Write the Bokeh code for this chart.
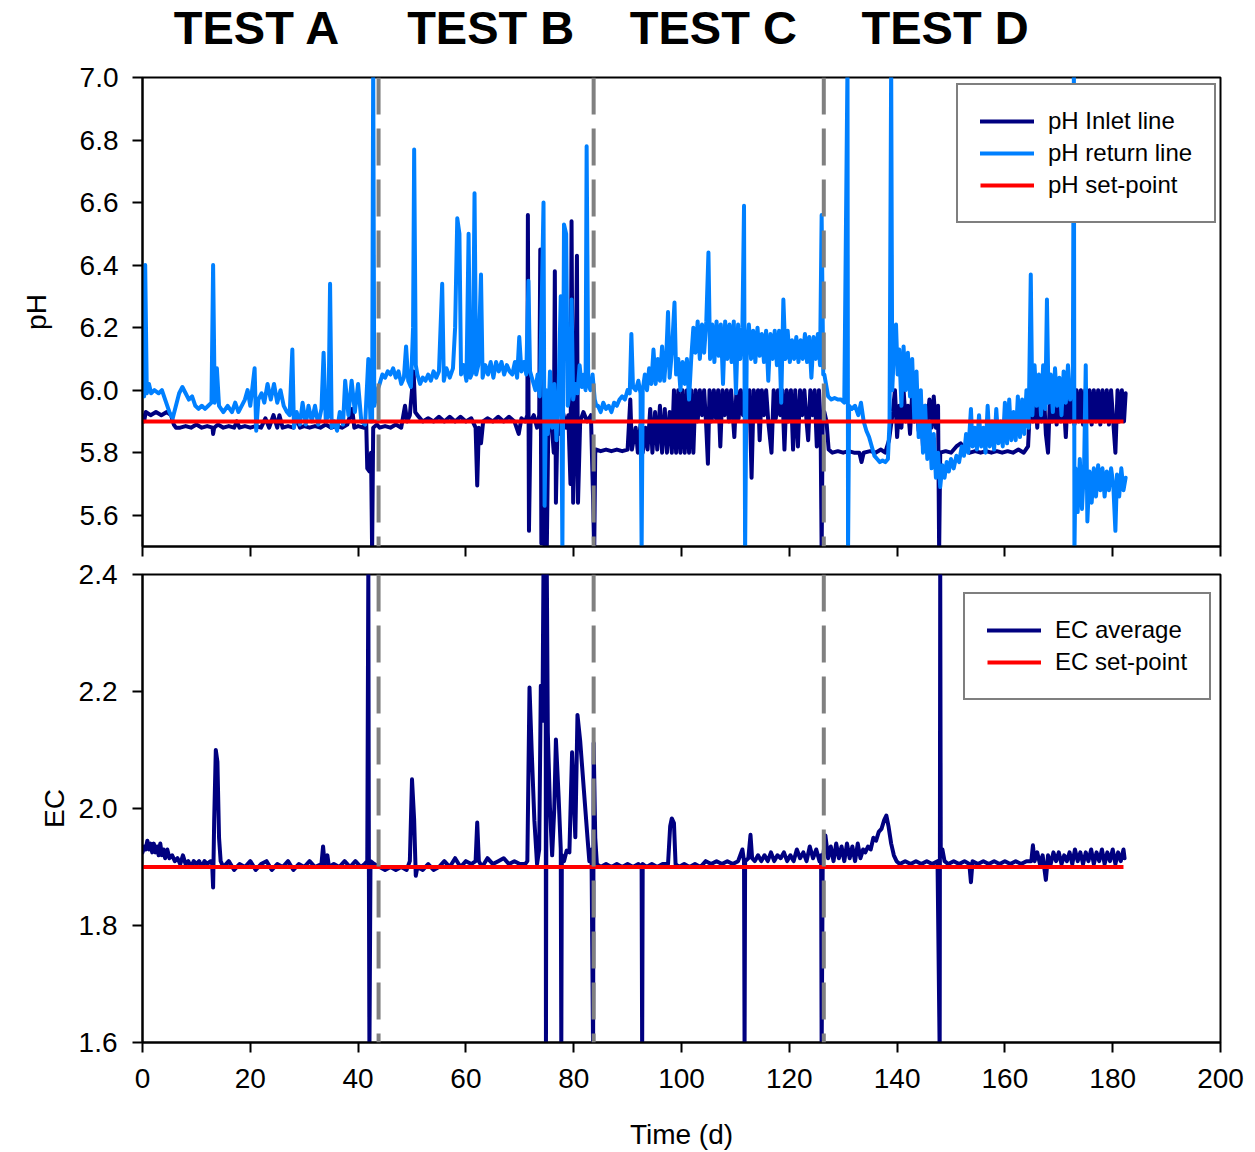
from bokeh.plotting import figure
from bokeh.layouts import column
from bokeh.models import Range1d, Span, Legend, LegendItem, FixedTicker, NumeralTickFormatter
from bokeh.embed import file_html
from bokeh.resources import INLINE
from bokeh.core.properties import value

FONT = "Liberation Sans"
NAVY = "#000080"
LIGHT = "#0080ff"
RED = "#ff0000"
GREY = "#808080"

# ---------------- data ----------------
test_names = ["TEST A", "TEST B", "TEST C", "TEST D"]
test_label_day = [21.3, 64.6, 105.9, 148.9]
test_boundaries = [43.8, 83.7, 126.4]

x_ticks = [0, 20, 40, 60, 80, 100, 120, 140, 160, 180, 200]
ph_ticks = [5.6, 5.8, 6.0, 6.2, 6.4, 6.6, 6.8, 7.0]
ec_ticks = [1.6, 1.8, 2.0, 2.2, 2.4]

setpoint_days = [0.0, 182.0]
ph_setpoint = [5.9, 5.9]
ec_setpoint = [1.9, 1.9]

# (day, pH) pH inlet line
ph_inlet = [
    (0.0, 5.92), (0.3, 5.90), (0.6, 5.93), (1.5, 5.92), (2.5, 5.93), (3.5, 5.92), (4.5, 5.93), (5.3, 5.92),
    (5.8, 5.89), (6.2, 5.88), (7, 5.88), (8, 5.885), (9, 5.88), (10, 5.89), (11, 5.88), (12, 5.885),
    (13.0, 5.88), (13.1, 5.86), (13.3, 5.88), (14, 5.89), (15, 5.88), (16, 5.885), (17, 5.88), (17.5, 5.90),
    (18, 5.88), (19, 5.885), (20, 5.88), (21, 5.885), (22, 5.88), (22.8, 5.91), (23.5, 5.88), (24.3, 5.92),
    (25, 5.88), (25.4, 5.92), (26, 5.88), (27, 5.885), (28, 5.88), (28.6, 5.91), (29.2, 5.88), (30, 5.885),
    (31, 5.88), (32, 5.885), (33, 5.88), (34, 5.89), (35, 5.88), (36, 5.885), (37, 5.88), (38, 5.89),
    (38.9, 5.94), (39.3, 5.88), (40, 5.885), (41, 5.88), (41.5, 5.90), (41.7, 5.75), (42.1, 5.74),
    (42.4, 5.80), (42.6, 5.48), (42.8, 5.88), (43.5, 5.89),
    (44, 5.88), (45, 5.885), (46, 5.88), (47, 5.89), (48, 5.88), (48.7, 5.95), (49.1, 5.90), (49.6, 5.92),
    (50.3, 6.06), (50.6, 5.93), (51, 5.92), (52, 5.90), (53, 5.91), (54, 5.90), (55, 5.915), (56, 5.90),
    (57, 5.915), (58, 5.90), (59, 5.915), (60, 5.90), (61, 5.91), (61.8, 5.88), (62.1, 5.695), (62.4, 5.88),
    (62.8, 5.83), (63.2, 5.90), (64, 5.91), (65, 5.90), (66, 5.915), (67, 5.90), (68, 5.915), (69, 5.90),
    (69.8, 5.86), (70.3, 5.91), (71, 5.90), (71.4, 5.92), (71.5, 6.56), (71.7, 5.55), (72.0, 5.90),
    (72.6, 5.92), (73.2, 5.88), (73.6, 5.92), (73.8, 6.45), (74.0, 5.51), (74.4, 5.90), (74.6, 5.48),
    (75.0, 5.48), (75.3, 5.90), (75.8, 5.92), (76.3, 5.80), (76.5, 6.38), (76.7, 5.64), (77.0, 5.90),
    (77.5, 5.86), (78.0, 5.93), (78.6, 5.88), (79.0, 5.92), (79.4, 5.70), (79.6, 6.54), (79.9, 5.64),
    (80.3, 5.90), (80.6, 6.43), (80.8, 5.64), (81.2, 5.90), (81.8, 5.93), (82.5, 5.90), (83.2, 5.92),
    (83.6, 5.65), (83.8, 5.48), (84.0, 5.81),
    (84.2, 5.81), (85, 5.805), (86, 5.81), (87, 5.805), (88, 5.81), (89, 5.805), (90, 5.81), (90.5, 5.97),
    (90.8, 5.81), (91.5, 5.88), (91.9, 5.80), (92.4, 5.89), (92.8, 5.80), (93.3, 5.88), (93.7, 5.81),
    (94.2, 5.94), (94.6, 5.80), (95.1, 5.93), (95.5, 5.81), (96.0, 5.95), (96.4, 5.80), (96.9, 5.94),
    (97.3, 5.80), (97.8, 5.93), (98.2, 5.80), (98.6, 6.00), (99.0, 5.80), (99.4, 6.00), (99.8, 5.80),
    (100.2, 6.00), (100.6, 5.80), (101.0, 6.00), (101.4, 5.80), (101.8, 6.00), (102.2, 5.80), (102.6, 6.00),
    (103.0, 5.90), (103.4, 6.00), (103.8, 5.92), (104.2, 6.00), (104.6, 5.88), (104.9, 5.765), (105.2, 6.00),
    (105.6, 5.90), (106.0, 6.00), (106.4, 5.91), (106.8, 6.00), (107.2, 5.82), (107.6, 6.00), (108.0, 5.92),
    (108.4, 6.00), (108.8, 5.90), (109.2, 6.00), (109.8, 5.85), (110.2, 6.00), (110.6, 5.91), (111.0, 6.00),
    (111.4, 5.92), (111.8, 6.00), (112.2, 5.90), (112.6, 6.00), (113.0, 5.72), (113.4, 6.00), (113.8, 5.91),
    (114.2, 6.00), (114.5, 5.84), (114.9, 6.00), (115.3, 5.92), (115.7, 6.00), (116.1, 5.90), (116.7, 5.80),
    (117.1, 6.00), (117.5, 5.91), (117.9, 6.00), (118.3, 5.92), (118.7, 6.00), (119.1, 5.81), (119.5, 6.00),
    (119.9, 5.90), (120.3, 6.00), (120.7, 5.81), (121.1, 6.00), (121.6, 5.82), (122.0, 6.00), (122.4, 5.92),
    (122.8, 6.00), (123.2, 5.90), (123.5, 5.84), (123.9, 6.00), (124.3, 5.92), (124.7, 6.00), (125.1, 5.82),
    (125.5, 6.00), (125.8, 5.90), (126.0, 5.48), (126.2, 5.92),
    (126.5, 5.93), (126.9, 5.90), (127.3, 5.81), (128, 5.80), (129, 5.805), (130, 5.80), (131, 5.805),
    (132, 5.80), (133, 5.80), (133.4, 5.77), (133.8, 5.80), (135, 5.805), (136, 5.80), (137, 5.81),
    (137.8, 5.80), (138.5, 5.84), (139.2, 5.93), (139.6, 6.00), (140.0, 5.85), (140.4, 5.95), (140.8, 5.88),
    (141.2, 6.00), (141.6, 5.90), (142.0, 5.95), (142.4, 5.86), (142.8, 5.99), (143.2, 5.90), (143.6, 5.96),
    (144.0, 5.87), (144.4, 5.94), (144.8, 5.82), (145.2, 5.95), (145.6, 5.90), (146.0, 5.97), (146.4, 5.88),
    (146.8, 5.98), (147.2, 5.88), (147.6, 5.95), (147.8, 5.48), (148.0, 5.80), (149, 5.805), (150, 5.80),
    (151, 5.82), (151.8, 5.83), (152.6, 5.81), (153.5, 5.80), (154.5, 5.805), (155.5, 5.80), (156.5, 5.805),
    (157.5, 5.80), (158.5, 5.805), (159.5, 5.80), (160.5, 5.805), (161.5, 5.80), (162.5, 5.81), (163.5, 5.80),
    (164.3, 5.82), (164.8, 6.00), (165.2, 5.90), (165.6, 6.00), (166.0, 5.88), (166.4, 6.00), (166.8, 5.90),
    (167.2, 6.00), (167.6, 5.86), (168.0, 5.80), (168.4, 6.00), (168.8, 5.90), (169.2, 6.00), (169.6, 5.89),
    (170.0, 6.00), (170.4, 5.90), (170.8, 6.00), (171.3, 5.85), (171.7, 6.00), (172.1, 5.90), (172.5, 6.00),
    (172.9, 5.89), (173.3, 6.00), (173.7, 5.90), (174.1, 6.00), (174.5, 5.89), (174.9, 6.00), (175.3, 5.90),
    (175.7, 6.00), (176.1, 5.89), (176.5, 6.00), (176.9, 5.90), (177.3, 6.00), (177.7, 5.89), (178.1, 6.00),
    (178.5, 5.90), (178.9, 6.00), (179.3, 5.89), (179.7, 6.00), (180.1, 5.90), (180.5, 5.80), (180.9, 6.00),
    (181.3, 5.90), (181.7, 6.00), (182.1, 5.90), (182.4, 5.99),
]

# (day, pH) pH return line
ph_return = [
    (0.0, 6.00), (0.3, 5.98), (0.5, 6.40), (0.8, 5.99), (1.2, 6.02), (1.6, 5.99), (2.2, 6.00), (3.0, 5.99),
    (3.6, 6.00), (4.2, 5.97), (5.0, 5.93), (5.6, 5.91), (6.2, 5.95), (6.8, 5.99), (7.4, 6.01), (8.0, 5.99),
    (8.6, 5.97), (9.2, 5.98), (9.8, 5.95), (10.4, 5.94), (11.0, 5.95), (11.6, 5.94), (12.2, 5.95), (12.8, 5.96),
    (13.1, 6.40), (13.4, 5.96), (13.8, 6.07), (14.2, 5.95), (15.0, 5.93), (15.8, 5.95), (16.6, 5.93),
    (17.2, 5.96), (17.8, 5.93), (18.4, 5.95), (19.0, 5.97), (19.5, 6.00), (20.0, 5.95), (20.8, 6.07),
    (21.1, 5.87), (21.5, 5.97), (22.1, 5.99), (22.6, 5.96), (23.2, 6.02), (23.8, 5.97), (24.4, 6.02),
    (25.0, 5.96), (25.6, 6.00), (26.2, 5.95), (26.8, 5.93), (27.3, 5.92), (27.8, 6.13), (28.1, 5.88),
    (28.6, 5.93), (29.2, 5.89), (29.7, 5.96), (30.3, 5.89), (30.8, 5.95), (31.4, 5.90), (32.0, 5.95),
    (32.6, 5.89), (33.2, 5.94), (33.6, 6.12), (34.0, 5.90), (34.5, 5.92), (34.8, 6.34), (35.1, 5.88),
    (35.6, 5.90), (36.1, 5.87), (36.6, 5.93), (37.2, 5.89), (37.6, 6.03), (38.2, 5.92), (38.8, 6.03),
    (39.4, 5.93), (40.0, 6.02), (40.6, 5.90), (41.3, 5.89), (41.9, 6.10), (42.3, 5.90), (42.6, 5.90),
    (42.8, 7.05), (43.0, 5.95), (43.6, 6.00),
    (44.0, 6.02), (44.5, 6.05), (45.0, 6.04), (45.5, 6.06), (46.0, 6.05), (46.5, 6.07), (47.0, 6.04),
    (47.5, 6.06), (48.0, 6.02), (48.5, 6.04), (48.9, 6.14), (49.3, 6.03), (49.8, 6.01), (50.2, 6.20),
    (50.4, 6.77), (50.7, 6.08), (51.0, 6.05), (51.5, 6.02), (52.0, 6.04), (52.5, 6.03), (53.0, 6.05),
    (53.5, 6.03), (54.0, 6.06), (54.5, 6.04), (55.0, 6.06), (55.6, 6.34), (55.9, 6.03), (56.4, 6.07),
    (57.0, 6.04), (57.6, 6.07), (58.0, 6.20), (58.4, 6.55), (58.8, 6.50), (59.1, 6.05), (59.6, 6.08),
    (60.1, 6.03), (60.5, 6.50), (60.8, 6.04), (61.3, 6.06), (61.6, 6.63), (61.9, 6.05), (62.3, 6.08),
    (62.8, 6.37), (63.1, 6.04), (63.6, 6.08), (64.1, 6.05), (64.6, 6.09), (65.1, 6.04), (65.6, 6.09),
    (66.1, 6.06), (66.6, 6.09), (67.1, 6.05), (67.6, 6.08), (68.1, 6.06), (68.6, 6.05), (69.1, 6.09),
    (69.5, 6.04), (69.9, 6.17), (70.3, 6.06), (70.8, 6.09), (71.2, 6.05), (71.6, 6.35), (71.9, 6.06),
    (72.4, 6.03), (72.9, 6.00), (73.3, 6.05), (73.7, 5.98), (74.1, 6.31), (74.4, 6.60), (74.6, 5.63),
    (74.9, 6.00), (75.2, 5.86), (75.6, 6.06), (76.0, 5.88), (76.4, 6.02), (76.8, 5.84), (77.2, 6.00),
    (77.6, 6.30), (77.9, 5.48), (78.2, 6.53), (78.6, 6.50), (78.9, 5.95), (79.3, 6.00), (79.6, 6.29),
    (79.9, 5.97), (80.3, 6.02), (80.7, 5.99), (81.1, 6.08), (81.5, 6.01), (81.9, 6.05), (82.2, 6.00),
    (82.4, 6.78), (82.7, 6.02), (83.1, 6.00), (83.5, 6.05), (83.9, 5.97), (84.2, 5.95),
    (84.5, 5.95), (85.0, 5.93), (85.5, 5.96), (86.0, 5.94), (86.5, 5.95), (87.0, 5.93), (87.5, 5.96),
    (88.0, 5.95), (88.5, 5.97), (89.0, 5.98), (89.5, 5.97), (90.0, 6.00), (90.4, 5.99), (90.7, 6.18),
    (91.0, 6.01), (91.5, 6.00), (92.0, 6.03), (92.4, 5.99), (92.6, 5.48), (92.8, 6.00), (93.2, 6.05),
    (93.6, 6.00), (94.0, 6.07), (94.4, 6.02), (94.8, 6.13), (95.2, 6.02), (95.6, 6.10), (96.0, 6.03),
    (96.4, 6.14), (96.8, 6.03), (97.2, 6.12), (97.5, 6.25), (97.8, 6.04), (98.2, 6.12), (98.7, 6.28),
    (99.0, 6.05), (99.4, 6.10), (99.8, 6.00), (100.2, 6.09), (100.6, 6.02), (101.0, 6.10), (101.4, 5.97),
    (101.8, 6.10), (102.2, 6.20), (102.6, 6.12), (103.0, 6.22), (103.4, 6.10), (103.8, 6.21), (104.2, 6.12),
    (104.6, 6.22), (105.0, 6.44), (105.3, 6.10), (105.7, 6.21), (106.1, 6.09), (106.5, 6.22), (106.9, 6.11),
    (107.3, 6.21), (107.7, 6.02), (108.1, 6.22), (108.5, 6.10), (108.9, 6.21), (109.3, 6.09), (109.7, 6.22),
    (110.1, 5.99), (110.5, 6.21), (110.9, 6.10), (111.3, 6.20), (111.6, 6.59), (111.8, 5.48), (112.1, 6.12),
    (112.5, 6.21), (112.9, 6.10), (113.3, 6.19), (113.7, 6.09), (114.1, 6.20), (114.5, 6.11), (114.9, 6.18),
    (115.3, 6.09), (115.7, 6.19), (116.1, 6.03), (116.5, 6.18), (116.9, 6.10), (117.3, 6.19), (117.7, 6.08),
    (118.1, 6.19), (118.5, 5.96), (118.9, 6.29), (119.3, 6.10), (119.7, 6.19), (120.1, 6.09), (120.5, 6.16),
    (120.9, 6.10), (121.3, 6.17), (121.7, 6.09), (122.1, 6.16), (122.5, 6.10), (122.9, 6.18), (123.3, 6.09),
    (123.7, 6.17), (124.1, 6.04), (124.5, 6.17), (124.9, 6.10), (125.3, 6.18), (125.7, 6.08), (126.0, 6.56),
    (126.3, 6.05),
    (126.5, 6.05), (126.8, 6.02), (127.2, 5.98), (127.8, 5.97), (128.4, 5.975), (129.0, 5.97), (129.6, 5.97),
    (130.2, 5.96), (130.8, 7.05), (130.9, 5.48), (131.1, 5.95), (131.6, 5.94), (132.2, 5.95), (132.8, 5.92),
    (133.3, 5.96), (133.8, 5.90), (134.3, 5.87), (134.8, 5.85), (135.3, 5.82), (135.8, 5.79), (136.3, 5.78),
    (136.8, 5.77), (137.3, 5.775), (137.8, 5.77), (138.3, 5.78), (138.6, 5.90), (138.9, 7.05), (139.1, 6.00),
    (139.4, 6.12), (139.8, 6.21), (140.1, 6.05), (140.4, 6.13), (140.8, 5.95), (141.2, 6.14), (141.6, 6.00),
    (142.0, 6.12), (142.4, 5.98), (142.8, 6.10), (143.2, 5.90), (143.6, 6.06), (144.0, 5.85), (144.4, 6.00),
    (144.8, 5.80), (145.2, 5.95), (145.6, 5.78), (146.0, 5.90), (146.4, 5.75), (146.8, 5.86), (147.2, 5.72),
    (147.6, 5.80), (148.0, 5.69), (148.4, 5.76), (148.8, 5.72), (149.2, 5.77), (149.6, 5.74), (150.0, 5.78),
    (150.5, 5.75), (151.0, 5.79), (151.5, 5.77), (152.0, 5.82), (152.4, 5.79), (152.8, 5.86), (153.2, 5.80),
    (153.7, 5.94), (154.0, 5.82), (154.4, 5.88), (154.8, 5.81), (155.2, 5.92), (155.6, 5.82), (156.0, 5.88),
    (156.4, 5.80), (156.8, 5.95), (157.2, 5.82), (157.6, 5.90), (158.0, 5.81), (158.4, 5.94), (158.8, 5.83),
    (159.2, 5.90), (159.6, 5.82), (160.0, 5.96), (160.4, 5.83), (160.8, 5.97), (161.2, 5.84), (161.6, 5.93),
    (162.0, 5.84), (162.4, 5.98), (162.8, 5.85), (163.2, 5.97), (163.6, 5.86), (164.0, 6.00), (164.4, 5.88),
    (164.8, 6.37), (165.1, 5.92), (165.5, 6.08), (165.9, 5.95), (166.3, 6.05), (166.7, 5.92), (167.1, 6.08),
    (167.5, 5.94), (167.8, 6.29), (168.1, 5.96), (168.5, 6.05), (168.9, 5.93), (169.3, 6.07), (169.7, 5.95),
    (170.1, 6.04), (170.5, 5.92), (170.9, 6.06), (171.3, 5.96), (171.7, 6.08), (172.1, 5.97), (172.6, 6.02),
    (172.8, 7.05), (172.9, 5.48), (173.1, 5.75), (173.5, 5.61), (173.9, 5.78), (174.3, 5.62), (174.7, 5.76),
    (175.0, 6.08), (175.3, 5.58), (175.7, 5.74), (176.1, 5.64), (176.5, 5.75), (176.9, 5.66), (177.3, 5.76),
    (177.7, 5.68), (178.1, 5.75), (178.5, 5.66), (178.9, 5.74), (179.3, 5.68), (179.7, 5.75), (180.1, 5.70),
    (180.5, 5.55), (180.8, 5.73), (181.2, 5.66), (181.6, 5.75), (182.0, 5.68), (182.4, 5.72),
]

# (day, EC) EC average
ec_average = [
    (0.0, 1.925), (0.3, 1.935), (0.6, 1.93), (0.9, 1.945), (1.2, 1.93), (1.5, 1.94), (1.8, 1.925), (2.1, 1.94),
    (2.4, 1.925), (2.7, 1.935), (3.0, 1.92), (3.3, 1.94), (3.6, 1.92), (3.9, 1.93), (4.2, 1.915), (4.6, 1.93),
    (5.0, 1.915), (5.5, 1.92), (6.0, 1.91), (6.5, 1.915), (7.0, 1.905), (7.5, 1.92), (8.0, 1.905), (8.5, 1.91),
    (9.0, 1.90), (9.5, 1.91), (10, 1.905), (10.5, 1.91), (11, 1.90), (11.5, 1.91), (12, 1.905), (12.6, 1.91),
    (12.9, 1.91), (13.1, 1.865), (13.3, 1.98), (13.6, 2.10), (13.9, 2.08), (14.2, 1.95), (14.5, 1.91),
    (15, 1.90), (16, 1.91), (17, 1.895), (18, 1.905), (19, 1.90), (20, 1.91), (21, 1.895), (22, 1.905),
    (23, 1.91), (24, 1.895), (25, 1.905), (26, 1.90), (27, 1.91), (28, 1.895), (29, 1.905), (30, 1.90),
    (31, 1.91), (32, 1.90), (33.2, 1.905), (33.5, 1.935), (33.8, 1.905), (34.3, 1.92), (34.6, 1.90),
    (35.5, 1.905), (36.5, 1.90), (37.5, 1.91), (38.5, 1.90), (39.5, 1.91), (40.5, 1.90), (41.2, 1.905),
    (41.7, 1.91), (41.9, 2.42), (42.0, 1.90), (42.1, 1.58), (42.3, 1.91), (43, 1.905), (44, 1.90),
    (45, 1.895), (46, 1.90), (47, 1.895), (48, 1.90), (49, 1.895), (49.6, 1.91), (50.0, 2.05), (50.4, 1.98),
    (50.7, 1.885), (51, 1.90), (52, 1.895), (53, 1.905), (54, 1.895), (55, 1.90), (56, 1.91), (57, 1.90),
    (58, 1.915), (59, 1.90), (60, 1.91), (61, 1.905), (61.8, 1.91), (62.1, 1.976), (62.4, 1.91), (63, 1.90),
    (64, 1.915), (65, 1.905), (66, 1.91), (67, 1.915), (68, 1.905), (69, 1.91), (70, 1.905), (71, 1.905),
    (71.4, 1.91), (71.8, 2.207), (72.2, 2.10), (72.7, 1.98), (73.2, 1.905), (73.6, 1.93), (73.9, 2.21),
    (74.2, 2.15), (74.4, 2.42), (74.8, 2.42), (74.85, 1.58), (75.0, 2.42), (75.2, 2.13), (75.6, 2.00),
    (76.0, 1.92), (76.4, 2.00), (76.7, 2.118), (77.2, 2.02), (77.6, 1.93), (77.7, 1.58), (77.8, 1.92),
    (78.2, 1.91), (78.7, 1.928), (79.2, 1.925), (79.7, 2.096), (80.3, 1.951), (80.7, 2.16), (81.2, 2.116),
    (81.9, 2.03), (82.6, 1.945), (82.9, 1.91), (83.3, 1.93), (83.6, 1.58), (83.7, 2.112), (84.0, 1.95),
    (84.3, 1.905), (85, 1.90), (86, 1.905), (87, 1.90), (88, 1.905), (89, 1.90), (90, 1.905), (91, 1.90),
    (92, 1.905), (92.6, 1.90), (92.7, 1.58), (92.8, 1.905), (93.5, 1.90), (94.5, 1.905), (95.5, 1.90),
    (96.5, 1.905), (97.5, 1.905), (97.9, 1.97), (98.2, 1.983), (98.6, 1.975), (98.9, 1.905), (99.5, 1.90),
    (100.5, 1.905), (101.5, 1.90), (102.5, 1.905), (103.5, 1.90), (104.5, 1.91), (105.5, 1.905),
    (106.5, 1.91), (107.5, 1.905), (108.5, 1.91), (109.5, 1.905), (110.5, 1.91), (111.3, 1.93),
    (111.6, 1.91), (111.7, 1.58), (111.8, 1.91), (112.4, 1.915), (112.8, 1.955), (113.1, 1.915),
    (113.6, 1.91), (114.2, 1.92), (114.8, 1.91), (115.4, 1.92), (116.0, 1.91), (116.6, 1.925), (117.2, 1.91),
    (117.8, 1.92), (118.4, 1.915), (119.0, 1.925), (119.6, 1.91), (120.2, 1.92), (120.8, 1.91), (121.4, 1.93),
    (122.0, 1.915), (122.6, 1.925), (123.2, 1.91), (123.8, 1.935), (124.4, 1.915), (125.0, 1.93),
    (125.6, 1.91), (125.9, 1.92), (126.0, 1.58), (126.2, 1.91), (126.7, 1.954), (127.2, 1.915), (127.7, 1.935),
    (128.2, 1.91), (128.7, 1.94), (129.2, 1.915), (129.7, 1.935), (130.2, 1.91), (130.7, 1.94), (131.2, 1.915),
    (131.7, 1.935), (132.2, 1.91), (132.7, 1.94), (133.2, 1.915), (133.7, 1.93), (134.1, 1.925),
    (134.6, 1.935), (135.1, 1.93), (135.6, 1.95), (136.1, 1.945), (136.6, 1.96), (137.1, 1.965), (137.6, 1.98),
    (138.0, 1.988), (138.4, 1.97), (138.9, 1.94), (139.4, 1.92), (139.9, 1.91), (140.5, 1.905), (141.5, 1.91),
    (142.5, 1.905), (143.5, 1.91), (144.5, 1.905), (145.5, 1.91), (146.5, 1.905), (147.5, 1.91),
    (147.9, 1.58), (148.0, 2.42), (148.1, 1.92), (148.4, 1.93), (148.8, 1.91), (149.5, 1.905), (150.5, 1.91),
    (151.5, 1.905), (152.5, 1.91), (153.4, 1.905), (153.7, 1.874), (154.0, 1.91), (155, 1.905), (156, 1.91),
    (157, 1.905), (158, 1.91), (159, 1.905), (160, 1.91), (161, 1.905), (162, 1.91), (163, 1.905), (164, 1.91),
    (164.9, 1.91), (165.2, 1.937), (165.5, 1.91), (166.0, 1.925), (166.5, 1.905), (167.0, 1.92),
    (167.6, 1.878), (168.0, 1.92), (168.5, 1.905), (169.0, 1.925), (169.5, 1.91), (170.0, 1.925),
    (170.5, 1.905), (171.0, 1.92), (171.5, 1.91), (172.0, 1.925), (172.5, 1.905), (173.0, 1.93), (173.5, 1.91),
    (174.0, 1.925), (174.5, 1.905), (175.0, 1.925), (175.5, 1.91), (176.0, 1.93), (176.5, 1.905),
    (177.0, 1.925), (177.5, 1.91), (178.0, 1.93), (178.5, 1.905), (179.0, 1.925), (179.5, 1.91), (180.0, 1.93),
    (180.5, 1.905), (181.0, 1.925), (181.5, 1.91), (182.0, 1.93), (182.2, 1.915),
]


def split(pts):
    return [p[0] for p in pts], [p[1] for p in pts]


def style_axis(ax):
    ax.axis_line_color = "black"
    ax.axis_line_width = 2
    ax.major_tick_line_color = "black"
    ax.major_tick_line_width = 2
    ax.major_tick_in = 0
    ax.major_tick_out = 10
    ax.minor_tick_line_color = None
    ax.major_label_text_font = FONT
    ax.major_label_text_font_size = "28px"
    ax.major_label_text_color = "black"
    ax.axis_label_text_font = FONT
    ax.axis_label_text_font_size = "28px"
    ax.axis_label_text_font_style = "normal"
    ax.axis_label_text_color = "black"


W = 1255
X0 = 0
X1 = 200
LW = 4

# ---------------- header with test names ----------------
header = figure(width=W, height=60, x_range=Range1d(X0, X1), y_range=Range1d(0, 60),
                output_backend="svg", toolbar_location=None, title=None,
                x_axis_type=None, y_axis_type=None,
                min_border_left=140, min_border_right=35, min_border_top=0, min_border_bottom=0)
header.outline_line_color = None
header.xgrid.visible = False
header.ygrid.visible = False
header.text(x=test_label_day, y=[33] * len(test_names), text=test_names,
            text_font=value(FONT), text_font_style="bold", text_font_size="47px",
            text_align="center", text_baseline="middle", text_color="black")

# ---------------- top panel: pH ----------------
top = figure(width=W, height=498, x_range=Range1d(X0, X1), y_range=Range1d(5.5, 7.0),
             output_backend="svg", toolbar_location=None, title=None,
             min_border_left=140, min_border_right=35, min_border_top=17, min_border_bottom=12)
top.outline_line_color = "black"
top.outline_line_width = 2
top.xgrid.visible = False
top.ygrid.visible = False
style_axis(top.xaxis[0])
style_axis(top.yaxis[0])
top.xaxis.ticker = FixedTicker(ticks=x_ticks)
top.xaxis.major_label_text_color = None
top.xaxis.major_label_text_font_size = "1px"
top.xaxis.major_label_standoff = 0
top.xaxis.major_tick_out = 10
top.yaxis.ticker = FixedTicker(ticks=ph_ticks)
top.yaxis.formatter = NumeralTickFormatter(format="0.0")
top.yaxis.axis_label = "pH"
top.yaxis.major_label_standoff = 14
top.yaxis.axis_label_standoff = 25

ix, iy = split(ph_inlet)
rx, ry = split(ph_return)
r_in = top.line(ix, iy, line_color=NAVY, line_width=LW, line_join="round", line_cap="round")
r_ret = top.line(rx, ry, line_color=LIGHT, line_width=LW, line_join="round", line_cap="round")
r_sp = top.line(setpoint_days, ph_setpoint, line_color=RED, line_width=LW)
for b in test_boundaries:
    top.add_layout(Span(location=b, dimension="height", line_color=GREY, line_width=4, line_dash="37 14"))

leg1 = Legend(items=[LegendItem(label="pH Inlet line", renderers=[r_in]),
                     LegendItem(label="pH return line", renderers=[r_ret]),
                     LegendItem(label="pH set-point", renderers=[r_sp])],
              location=(814, 323))
top.add_layout(leg1)

# ---------------- bottom panel: EC ----------------
bot = figure(width=W, height=594, x_range=Range1d(X0, X1), y_range=Range1d(1.6, 2.4),
             output_backend="svg", toolbar_location=None, title=None,
             min_border_left=142, min_border_right=32, min_border_top=16, min_border_bottom=110)
bot.outline_line_color = "black"
bot.outline_line_width = 2
bot.xgrid.visible = False
bot.ygrid.visible = False
style_axis(bot.xaxis[0])
style_axis(bot.yaxis[0])
bot.xaxis.ticker = FixedTicker(ticks=x_ticks)
bot.xaxis.formatter = NumeralTickFormatter(format="0")
bot.xaxis.axis_label = "Time (d)"
bot.xaxis.major_label_standoff = 16
bot.xaxis.axis_label_standoff = 28
bot.yaxis.ticker = FixedTicker(ticks=ec_ticks)
bot.yaxis.formatter = NumeralTickFormatter(format="0.0")
bot.yaxis.axis_label = "EC"
bot.yaxis.major_label_standoff = 15
bot.yaxis.axis_label_standoff = 6

ex, ey = split(ec_average)
r_ec = bot.line(ex, ey, line_color=NAVY, line_width=LW, line_join="round", line_cap="round")
r_esp = bot.line(setpoint_days, ec_setpoint, line_color=RED, line_width=LW)
for b in test_boundaries:
    bot.add_layout(Span(location=b, dimension="height", line_color=GREY, line_width=4, line_dash="37 14"))

leg2 = Legend(items=[LegendItem(label="EC average", renderers=[r_ec]),
                     LegendItem(label="EC set-point", renderers=[r_esp])],
              location=(821, 342))
bot.add_layout(leg2)

for lg in [leg1, leg2]:
    lg.border_line_color = "black"
    lg.border_line_width = 2
    lg.background_fill_color = "white"
    lg.background_fill_alpha = 1.0
    lg.label_text_font = FONT
    lg.label_text_font_size = "24px"
    lg.label_text_color = "black"
    lg.glyph_width = 54
    lg.glyph_height = 28
    lg.label_height = 28
    lg.label_standoff = 14
    lg.padding = 22
    lg.spacing = 4
    lg.margin = 0

layout = column(header, top, bot, spacing=0)
open("out.html", "w").write(file_html(layout, INLINE))
